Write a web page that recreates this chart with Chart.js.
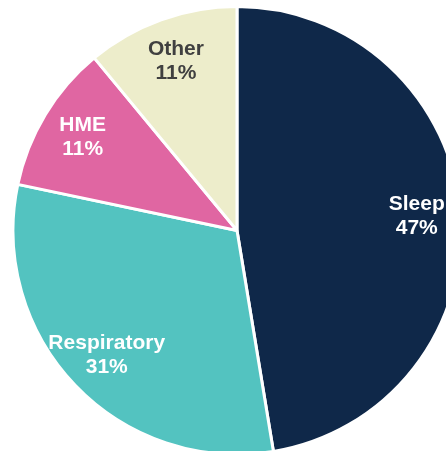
<!DOCTYPE html>
<html>
<head>
<meta charset="utf-8">
<script src="https://cdn.jsdelivr.net/npm/chart.js@4/dist/chart.umd.min.js"></script>
<style>
  html, body { margin: 0; padding: 0; background: #fff; overflow: hidden; }
  #wrap { position: absolute; left: 0; top: 0; width: 446px; height: 451px; overflow: hidden; }
</style>
</head>
<body>
<div id="wrap"><canvas id="myChart" width="474" height="460"></canvas></div>
<script>
const categories = ['Sleep', 'Respiratory', 'HME', 'Other']
const shares = [47.4, 30.9, 10.7, 11.0]
const sliceColors = ['#0f2849', '#53c3c0', '#e066a2', '#ededcb']
const labelColors = ['#ffffff', '#ffffff', '#ffffff', '#404040']

// draws "Name / NN%" inside each slice
const sliceLabels = {
  id: 'sliceLabels',
  afterDatasetsDraw(chart) {
    const ctx = chart.ctx
    const meta = chart.getDatasetMeta(0)
    ctx.save()
    ctx.font = 'bold 21px "Liberation Sans", Arial, sans-serif'
    ctx.textAlign = 'center'
    ctx.textBaseline = 'middle'
    meta.data.forEach((arc, i) => {
      const mid = (arc.startAngle + arc.endAngle) / 2
      const r = arc.outerRadius * 0.805
      const x = arc.x + Math.cos(mid) * r
      const y = arc.y + Math.sin(mid) * r
      ctx.fillStyle = labelColors[i]
      ctx.fillText(categories[i], x, y - 12)
      ctx.fillText(Math.round(shares[i]) + '%', x, y + 12)
    })
    ctx.restore()
  }
}

new Chart('myChart', {
  type: 'pie',
  data: {
    labels: categories,
    datasets: [{
      data: shares,
      backgroundColor: sliceColors,
      borderColor: '#ffffff',
      borderWidth: 3
    }]
  },
  options: {
    responsive: false,
    animation: false,
    layout: { padding: { top: 5, bottom: 4, left: 0, right: 0 } },
    plugins: {
      legend: { display: false },
      tooltip: { enabled: false }
    }
  },
  plugins: [sliceLabels]
})
</script>
</body>
</html>
